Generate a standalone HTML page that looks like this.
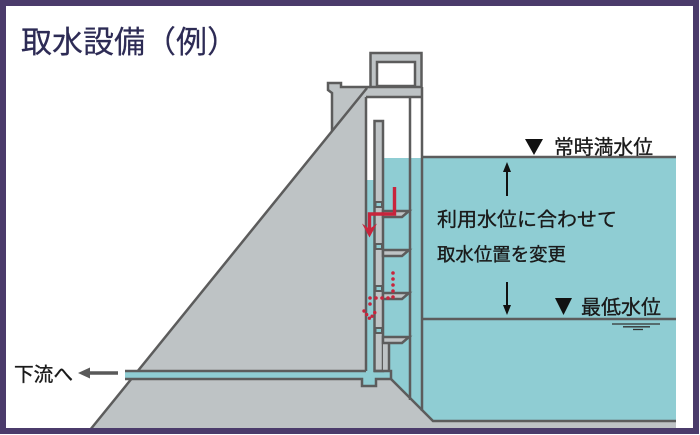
<!DOCTYPE html>
<html><head><meta charset="utf-8"><style>
html,body{margin:0;padding:0;background:#fff;}
svg{display:block;}
text{font-family:"Liberation Sans","Noto Sans CJK JP",sans-serif;}
</style></head><body>
<svg width="700" height="435" viewBox="0 0 700 435" xmlns="http://www.w3.org/2000/svg">
<rect x="0" y="0" width="700" height="435" fill="#fff"/>
<!-- reservoir -->
<rect x="422" y="157" width="254" height="264" fill="#8fcdd3"/>
<!-- dam gray -->
<polygon points="89,432 332,131 332,93 328,90 328,83 341,83 341,87 422,87 422,97 366,97 366,379 391,379 433,421 676,421 676,432" fill="#bec3c5"/>
<!-- shaft interior -->
<polygon points="366,158 422,158 422,411 391,379 366,379" fill="#8fcdd3"/>
<rect x="366" y="97" width="56" height="61" fill="#fff"/>
<rect x="366" y="97" width="9" height="83" fill="#fff"/>
<!-- tower house -->
<rect x="370.5" y="53" width="51" height="34" fill="#bec3c5" stroke="#5c5c5c" stroke-width="2.5"/>
<rect x="377" y="62" width="38" height="24" fill="#fff" stroke="#5c5c5c" stroke-width="2.5"/>
<g fill="none" stroke="#5c5c5c" stroke-width="2.5">
<line x1="90" y1="430" x2="367" y2="88"/>
<polyline points="332,131 332,93 328,90 328,83 341,83 341,87 370,87"/>
<line x1="366" y1="97" x2="422" y2="97"/>
<line x1="422" y1="87" x2="422" y2="411"/>
<line x1="366" y1="97" x2="366" y2="371"/>
<line x1="410" y1="97" x2="410" y2="400"/>
<line x1="422" y1="157" x2="676" y2="157"/>
<line x1="422" y1="319" x2="676" y2="319"/>
<polyline points="391,379 433,421 676,421"/>
</g>
<!-- pipe -->
<rect x="125" y="371" width="266" height="8" fill="#8fcdd3"/>
<rect x="362" y="378" width="14" height="8" fill="#8fcdd3"/>
<!-- column -->
<rect x="374.5" y="121" width="8.5" height="250" fill="#bec3c5" stroke="#5c5c5c" stroke-width="2.5"/>
<rect x="383" y="343" width="6" height="28" fill="#bec3c5"/>
<g fill="#8fcdd3" stroke="#5c5c5c" stroke-width="2">
<rect x="375.5" y="202" width="6.5" height="5"/>
<rect x="375.5" y="244" width="6.5" height="5"/>
<rect x="375.5" y="286" width="6.5" height="5"/>
<rect x="375.5" y="328" width="6.5" height="5"/>
</g>
<g fill="#bec3c5" stroke="#5c5c5c" stroke-width="2.5" stroke-linejoin="miter">
<polygon points="383,211 409,211 402,217 383,217"/>
<polygon points="383,250 409,250 402,256 383,256"/>
<polygon points="383,293 409,293 402,299 383,299"/>
<polygon points="383,337 409,337 402,343 383,343"/>
</g>
<g fill="none" stroke="#5c5c5c" stroke-width="2.5">
<line x1="389" y1="343" x2="389" y2="371"/>
<polyline points="125,371 366,371"/>
<polyline points="374,371 391,371 391,379"/>
<polyline points="125,379 362,379 362,386 376,386 376,379 391,379"/>
</g>
<!-- low water symbol -->
<g stroke="#333" stroke-width="1.3">
<line x1="612" y1="324" x2="660" y2="324"/>
<line x1="623" y1="326.8" x2="650" y2="326.8"/>
<line x1="633" y1="329.5" x2="643" y2="329.5"/>
</g>
<!-- red arrows -->
<polyline points="394.5,187 394.5,214 369.5,214 369.5,229" fill="none" stroke="#c8243c" stroke-width="3.4"/>
<polygon points="362,223.5 369.5,229 377,223.5 369.5,237.5" fill="#c8243c"/>
<polyline points="393,273 393,298 370,298 370,308" fill="none" stroke="#c8243c" stroke-width="3.6" stroke-linecap="round" stroke-dasharray="0 6"/>
<polyline points="364,311 370,319 376,311" fill="none" stroke="#c8243c" stroke-width="3.4" stroke-linecap="round" stroke-dasharray="0 4.5"/>
<!-- black arrows -->
<line x1="507" y1="170" x2="507" y2="196" stroke="#111" stroke-width="2"/>
<polygon points="507,162 503,172 511,172" fill="#111"/>
<line x1="507" y1="282" x2="507" y2="307" stroke="#111" stroke-width="2"/>
<polygon points="507,315 503,305 511,305" fill="#111"/>
<!-- downstream arrow -->
<line x1="88" y1="373" x2="118" y2="373" stroke="#595959" stroke-width="3.5"/>
<polygon points="78,373 90,367.5 90,378.5" fill="#595959"/>
<!-- triangles -->
<polygon points="525,139 543,139 534,155" fill="#111"/>
<polygon points="555,298 572,298 563.5,315" fill="#111"/>
<!-- text -->
<text x="21" y="53" font-size="31" fill="#2d2b55" stroke="#2d2b55" stroke-width="0.2" textLength="217" lengthAdjust="spacingAndGlyphs">取水設備（例）</text>
<g fill="#1a1a1a" stroke="#1a1a1a" stroke-width="0.35">
<text x="554" y="154" font-size="20" textLength="99" lengthAdjust="spacingAndGlyphs">常時満水位</text>
<text x="437" y="226" font-size="19.5" textLength="180" lengthAdjust="spacingAndGlyphs">利用水位に合わせて</text>
<text x="437" y="261" font-size="18.5" textLength="129" lengthAdjust="spacingAndGlyphs">取水位置を変更</text>
<text x="581" y="314" font-size="20" textLength="80" lengthAdjust="spacingAndGlyphs">最低水位</text>
<text x="14" y="381" font-size="19.5" textLength="59" lengthAdjust="spacingAndGlyphs">下流へ</text>
</g>
<!-- border -->
<rect x="3" y="3" width="693" height="428" fill="none" stroke="#4b3b6b" stroke-width="6"/>
</svg>
</body></html>
